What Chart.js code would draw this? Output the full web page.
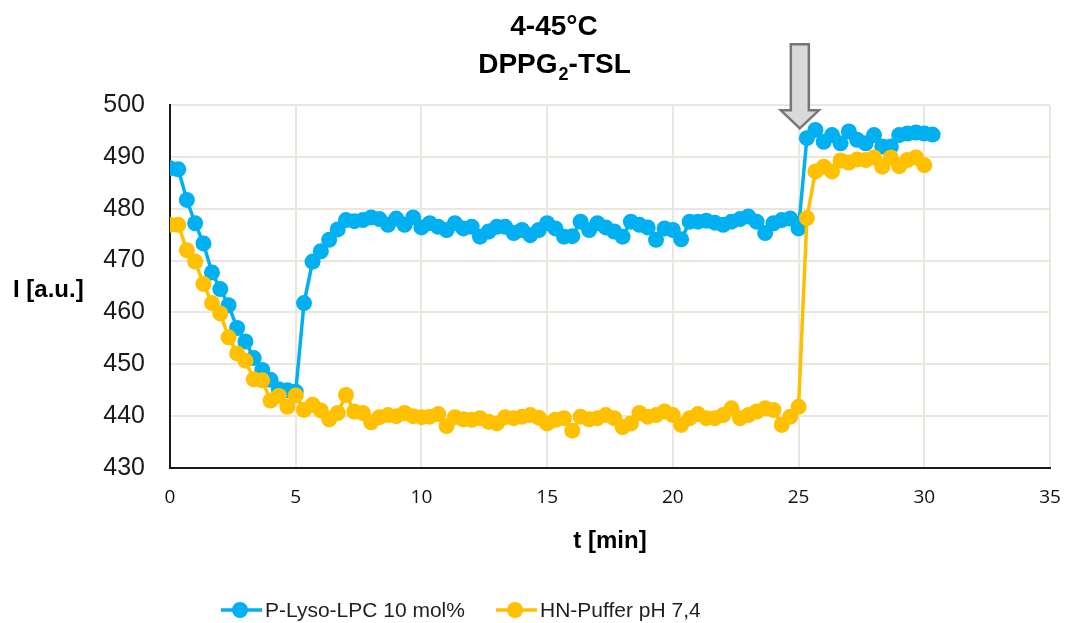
<!DOCTYPE html>
<html>
<head>
<meta charset="utf-8">
<script src="https://cdn.jsdelivr.net/npm/chart.js@4.4.1/dist/chart.umd.min.js"></script>
<style>
  html, body { margin: 0; padding: 0; background: #fff; }
  #wrap { width: 1072px; height: 623px; }
</style>
</head>
<body>
<div id="wrap"><canvas id="chart" width="1072" height="623"></canvas></div>
<script>
// Messzeitpunkte [min], alle 20 s
const zeit = [0, 0.33, 0.67, 1, 1.33, 1.67, 2, 2.33, 2.67, 3, 3.33, 3.67, 4, 4.33, 4.67,
  5, 5.33, 5.67, 6, 6.33, 6.67, 7, 7.33, 7.67, 8, 8.33, 8.67, 9, 9.33, 9.67,
  10, 10.33, 10.67, 11, 11.33, 11.67, 12, 12.33, 12.67, 13, 13.33, 13.67, 14, 14.33, 14.67,
  15, 15.33, 15.67, 16, 16.33, 16.67, 17, 17.33, 17.67, 18, 18.33, 18.67, 19, 19.33, 19.67,
  20, 20.33, 20.67, 21, 21.33, 21.67, 22, 22.33, 22.67, 23, 23.33, 23.67, 24, 24.33, 24.67,
  25, 25.33, 25.67, 26, 26.33, 26.67, 27, 27.33, 27.67, 28, 28.33, 28.67, 29, 29.33, 29.67,
  30, 30.33];

// Intensitaet I [a.u.]
const lysoLPC = [487.8, 487.6, 481.7, 477.2, 473.3, 467.7, 464.5, 461.4, 457, 454.4, 451.2, 448.9, 447, 445.2, 445,
  444.7, 461.8, 469.8, 471.8, 474, 476, 477.8, 477.6, 477.8, 478.3, 478, 476.9, 478.1, 476.9, 478.3,
  476.4, 477.2, 476.5, 475.9, 477.2, 476.2, 476.5, 474.6, 475.6, 476.5, 476.5, 475.3, 475.9, 474.9, 475.9,
  477.2, 476.2, 474.6, 474.7, 477.5, 475.9, 477.2, 476.4, 475.6, 474.6, 477.5, 476.9, 476.4, 474, 476.2,
  475.9, 474.1, 477.5, 477.5, 477.7, 477.3, 476.9, 477.5, 478, 478.5, 477.5, 475.3, 477.2, 477.8, 478.1,
  476.2, 493.6, 495.2, 492.9, 494.2, 492.6, 494.9, 493.3, 492.6, 494.2, 492, 492, 494.2, 494.5, 494.7,
  494.5, 494.3];

const hnPuffer = [476.9, 476.9, 472, 469.8, 465.5, 461.8, 459.8, 455.2, 452.1, 450.7, 447.1, 446.9, 443, 443.9, 441.8,
  444, 441.2, 442.2, 441.1, 439.4, 440.6, 444.1, 440.9, 440.6, 438.8, 439.8, 440.2, 440, 440.6, 440,
  439.8, 439.9, 440.4, 438.1, 439.8, 439.4, 439.3, 439.6, 438.9, 438.6, 439.8, 439.6, 439.9, 440.2, 439.7,
  438.6, 439.3, 439.6, 437.2, 439.9, 439.4, 439.6, 440.2, 439.6, 437.9, 438.6, 440.6, 439.9, 440.2, 440.9,
  440.2, 438.3, 439.6, 440.4, 439.6, 439.6, 440.2, 441.5, 439.6, 440.2, 440.9, 441.5, 441.2, 438.3, 439.9,
  441.8, 478.2, 487.2, 488.1, 487.2, 489.3, 488.9, 489.5, 489.4, 489.9, 488.1, 489.9, 488.2, 489.4, 489.9,
  488.4];

const serien = ['P-Lyso-LPC 10 mol%', 'HN-Puffer pH 7,4'];
const farben = ['#00b0f0', '#ffc000'];

const BLAU = farben[0], GELB = farben[1];
const GRID = '#ebe7df';

function punkte(werte) {
  return werte.map((v, i) => ({ x: zeit[i], y: v }));
}

// Titel, Achsenbeschriftung I, Pfeil und Legende
const extras = {
  id: 'extras',
  afterDraw(chart) {
    const ctx = chart.ctx;
    const xs = chart.scales.x, ys = chart.scales.y;
    ctx.save();

    // Titel mit tiefgestellter 2
    const gross = 'bold 28px "Liberation Sans", Arial, sans-serif';
    const klein = 'bold 18px "Liberation Sans", Arial, sans-serif';
    ctx.fillStyle = '#000';
    ctx.textBaseline = 'middle';
    ctx.textAlign = 'center';
    ctx.font = gross;
    const cx = 554;
    ctx.fillText('4-45°C', cx, 27);
    const t1 = 'DPPG', t2 = '2', t3 = '-TSL';
    const w1 = ctx.measureText(t1).width;
    const w3 = ctx.measureText(t3).width;
    ctx.font = klein;
    const w2 = ctx.measureText(t2).width;
    const x0 = cx - (w1 + w2 + w3) / 2;
    ctx.textAlign = 'left';
    ctx.font = gross;
    ctx.fillText(t1, x0, 65);
    ctx.font = klein;
    ctx.fillText(t2, x0 + w1 + 1, 75);
    ctx.font = gross;
    ctx.fillText(t3, x0 + w1 + w2 + 1, 65);

    // y-Achsentitel waagerecht
    ctx.font = 'bold 24px "Liberation Sans", Arial, sans-serif';
    ctx.fillText('I [a.u.]', 13, (chart.chartArea.top + chart.chartArea.bottom) / 2 + 4);

    // Pfeil bei t = 25 min
    const px = xs.getPixelForValue(25.05);
    const py = ys.getPixelForValue(495.5);
    ctx.beginPath();
    ctx.moveTo(px, py);
    ctx.lineTo(px - 19, py - 18);
    ctx.lineTo(px - 9, py - 18);
    ctx.lineTo(px - 9, py - 84);
    ctx.lineTo(px + 9, py - 84);
    ctx.lineTo(px + 9, py - 18);
    ctx.lineTo(px + 19, py - 18);
    ctx.closePath();
    ctx.fillStyle = '#d9d9d9';
    ctx.fill();
    ctx.strokeStyle = '#7a7575';
    ctx.lineWidth = 2.5;
    ctx.stroke();

    // Legende
    const ly = 610;
    const eintraege = [
      { x: 221, text: serien[0], farbe: BLAU },
      { x: 496, text: serien[1], farbe: GELB }
    ];
    ctx.font = '21px "Liberation Sans", Arial, sans-serif';
    eintraege.forEach(e => {
      ctx.strokeStyle = e.farbe;
      ctx.lineWidth = 3.5;
      ctx.beginPath();
      ctx.moveTo(e.x, ly);
      ctx.lineTo(e.x + 41, ly);
      ctx.stroke();
      ctx.fillStyle = e.farbe;
      ctx.beginPath();
      ctx.arc(e.x + 19, ly, 8, 0, Math.PI * 2);
      ctx.fill();
      ctx.fillStyle = '#1f1f1f';
      ctx.fillText(e.text, e.x + 44, ly + 1);
    });

    ctx.restore();
  }
};

new Chart(document.getElementById('chart'), {
  type: 'line',
  data: {
    datasets: [{
      label: serien[0],
      data: punkte(lysoLPC),
      borderColor: BLAU,
      backgroundColor: BLAU,
      pointBackgroundColor: BLAU,
      pointBorderColor: BLAU,
      borderWidth: 3.5,
      pointRadius: 8,
      pointBorderWidth: 0,
      tension: 0,
      order: 1
    }, {
      label: serien[1],
      data: punkte(hnPuffer),
      borderColor: GELB,
      backgroundColor: GELB,
      pointBackgroundColor: GELB,
      pointBorderColor: GELB,
      borderWidth: 3.5,
      pointRadius: 8,
      pointBorderWidth: 0,
      tension: 0,
      order: 0
    }]
  },
  options: {
    responsive: false,
    devicePixelRatio: 1,
    animation: false,
    layout: { padding: { top: 105, right: 22, bottom: 67, left: 0 } },
    plugins: {
      legend: { display: false },
      tooltip: { enabled: false },
      title: { display: false }
    },
    scales: {
      x: {
        type: 'linear',
        min: 0,
        max: 35,
        afterFit(scale) {
          scale.height = 88;
          scale.paddingLeft = 0;
          scale.paddingRight = 0;
        },
        ticks: {
          stepSize: 5,
          padding: 18,
          color: '#111',
          font: { family: '"Open Sans", "Liberation Sans", sans-serif', size: 19 }
        },
        grid: {
          color: ctx => ctx.tick && ctx.tick.value === 0 ? 'rgba(0,0,0,0)' : GRID,
          lineWidth: 2,
          drawTicks: false
        },
        border: { color: '#1a1a1a', width: 2 },
        title: {
          display: true,
          text: 't [min]',
          color: '#000',
          padding: 0,
          font: { family: '"Liberation Sans", Arial, sans-serif', size: 24, weight: 'bold' }
        }
      },
      y: {
        min: 430,
        max: 500,
        afterFit(scale) { scale.width = 170; },
        ticks: {
          stepSize: 10,
          padding: 25,
          color: '#1a1a1a',
          font: { family: '"Liberation Sans", Arial, sans-serif', size: 25 }
        },
        grid: {
          color: ctx => ctx.tick && ctx.tick.value === 430 ? 'rgba(0,0,0,0)' : GRID,
          lineWidth: 2,
          drawTicks: false
        },
        border: { color: '#1a1a1a', width: 2 }
      }
    }
  },
  plugins: [extras]
});
</script>
</body>
</html>
